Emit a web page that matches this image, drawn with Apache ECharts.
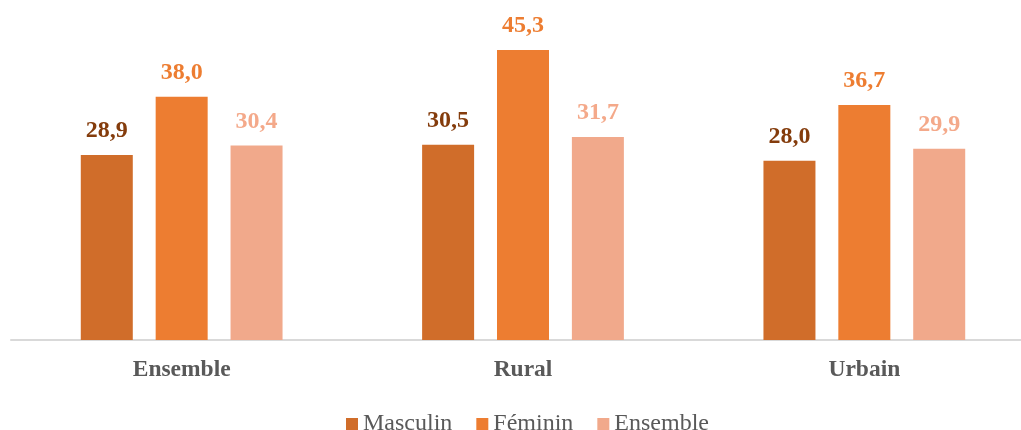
<!DOCTYPE html>
<html>
<head>
<meta charset="utf-8">
<script src="https://cdn.jsdelivr.net/npm/echarts@6/dist/echarts.min.js"></script>
<style>
  html, body { margin: 0; padding: 0; background: #fff; overflow: hidden; }
  #chart { width: 1035px; height: 430px; }
</style>
</head>
<body>
<div id="chart"></div>
<script>
const categories = ['Ensemble', 'Rural', 'Urbain']
const seriesNames = ['Masculin', 'Féminin', 'Ensemble']
const masculin = [28.9, 30.5, 28.0]
const feminin = [38.0, 45.3, 36.7]
const ensemble = [30.4, 31.7, 29.9]

const barColors = ['#d06d2a', '#ed7d31', '#f1a98b']
const labelColors = ['#843c0c', '#ed7d31', '#f4a98a']
const font = '"Liberation Serif", "Times New Roman", serif'

const chart = echarts.init(document.getElementById('chart'))

function makeSeries(name, data, i) {
  return {
    name: name,
    type: 'bar',
    data: data,
    barWidth: 52,
    barGap: '44%',
    itemStyle: { color: barColors[i] },
    label: {
      show: true,
      position: 'top',
      distance: 12,
      color: labelColors[i],
      fontFamily: font,
      fontWeight: 'bold',
      fontSize: 24,
      formatter: p => p.value.toFixed(1).replace('.', ',')
    }
  }
}

chart.setOption({
  animation: false,
  color: barColors,
  grid: { left: 11, right: 0, top: 20, bottom: 90, containLabel: false },
  legend: {
    data: seriesNames,
    top: 407,
    left: 341,
    itemWidth: 12,
    itemHeight: 12,
    itemGap: 24,
    icon: 'rect',
    textStyle: { fontFamily: font, fontSize: 24, color: '#595959' }
  },
  xAxis: {
    type: 'category',
    data: categories,
    axisLine: { lineStyle: { color: '#d9d9d9', width: 2 } },
    axisTick: { show: false },
    axisLabel: {
      margin: 18,
      fontFamily: font,
      fontWeight: 'bold',
      fontSize: 23.5,
      color: '#595959'
    }
  },
  yAxis: {
    type: 'value',
    min: 0,
    max: 50,
    show: false,
    splitLine: { show: false }
  },
  series: [
    makeSeries(seriesNames[0], masculin, 0),
    makeSeries(seriesNames[1], feminin, 1),
    makeSeries(seriesNames[2], ensemble, 2)
  ]
})
</script>
</body>
</html>
